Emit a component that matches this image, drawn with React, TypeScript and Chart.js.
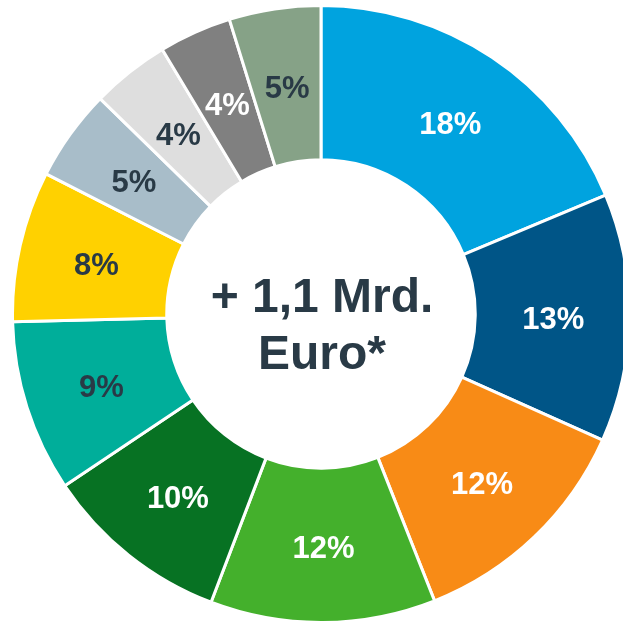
import React, { useEffect, useRef } from "react";
import { Chart, registerables } from "chart.js";

Chart.register(...registerables);

// Angular shares (clockwise from 12 o'clock)
const values = [18.7, 13.0, 12.3, 11.8, 9.8, 9.0, 7.9, 4.8, 4.1, 3.8, 4.8];
// Printed labels
const labels = ["18%", "13%", "12%", "12%", "10%", "9%", "8%", "5%", "4%", "4%", "5%"];
const colors = [
  "#00A3DF",
  "#005587",
  "#F88B16",
  "#44B02C",
  "#077223",
  "#00AE9A",
  "#FFD100",
  "#A8BDC9",
  "#DEDEDE",
  "#808080",
  "#86A287",
];
const DARK = "#293A46";
const labelColors = [
  "#FFFFFF",
  "#FFFFFF",
  "#FFFFFF",
  "#FFFFFF",
  "#FFFFFF",
  DARK,
  DARK,
  DARK,
  DARK,
  "#FFFFFF",
  DARK,
];
const centerLines = ["+ 1,1 Mrd.", "Euro*"];

const FONT = "Arial, 'Liberation Sans', sans-serif";

const labelPlugin = {
  id: "sliceLabels",
  afterDatasetsDraw(chart: any) {
    const ctx = chart.ctx;
    const meta = chart.getDatasetMeta(0);
    ctx.save();
    ctx.font = `bold 31px ${FONT}`;
    ctx.textAlign = "center";
    ctx.textBaseline = "middle";
    meta.data.forEach((arc: any, i: number) => {
      const p = arc.getProps(["x", "y", "startAngle", "endAngle", "innerRadius", "outerRadius"], true);
      const a = (p.startAngle + p.endAngle) / 2;
      const r = (p.innerRadius + p.outerRadius) / 2;
      ctx.fillStyle = labelColors[i];
      ctx.fillText(labels[i], p.x + Math.cos(a) * r + 1, p.y + Math.sin(a) * r + 4);
    });
    // center text
    const c = meta.data[0];
    ctx.font = `bold 48px ${FONT}`;
    ctx.fillStyle = DARK;
    ctx.textBaseline = "alphabetic";
    ctx.fillText(centerLines[0], c.x + 1, c.y - 2);
    ctx.fillText(centerLines[1], c.x + 1, c.y + 55);
    ctx.restore();
  },
};

export default function App() {
  const ref = useRef<HTMLCanvasElement>(null);
  useEffect(() => {
    const chart = new Chart(ref.current as HTMLCanvasElement, {
      type: "doughnut",
      data: {
        labels,
        datasets: [
          {
            data: values,
            backgroundColor: colors,
            borderColor: "#FFFFFF",
            borderWidth: 3,
          },
        ],
      },
      options: {
        responsive: false,
        animation: false,
        devicePixelRatio: 1,
        cutout: "50%",
        layout: { padding: 0 },
        plugins: {
          legend: { display: false },
          tooltip: { enabled: false },
        },
      },
      plugins: [labelPlugin],
    });
    return () => chart.destroy();
  }, []);
  return (
    <div
      style={{
        position: "fixed",
        left: 0,
        top: 0,
        width: 623,
        height: 621,
        overflow: "hidden",
        background: "#fff",
      }}
    >
      <canvas
        ref={ref}
        width={620}
        height={620}
        style={{ position: "absolute", left: 11, top: 4, width: 620, height: 620 }}
      />
    </div>
  );
}
